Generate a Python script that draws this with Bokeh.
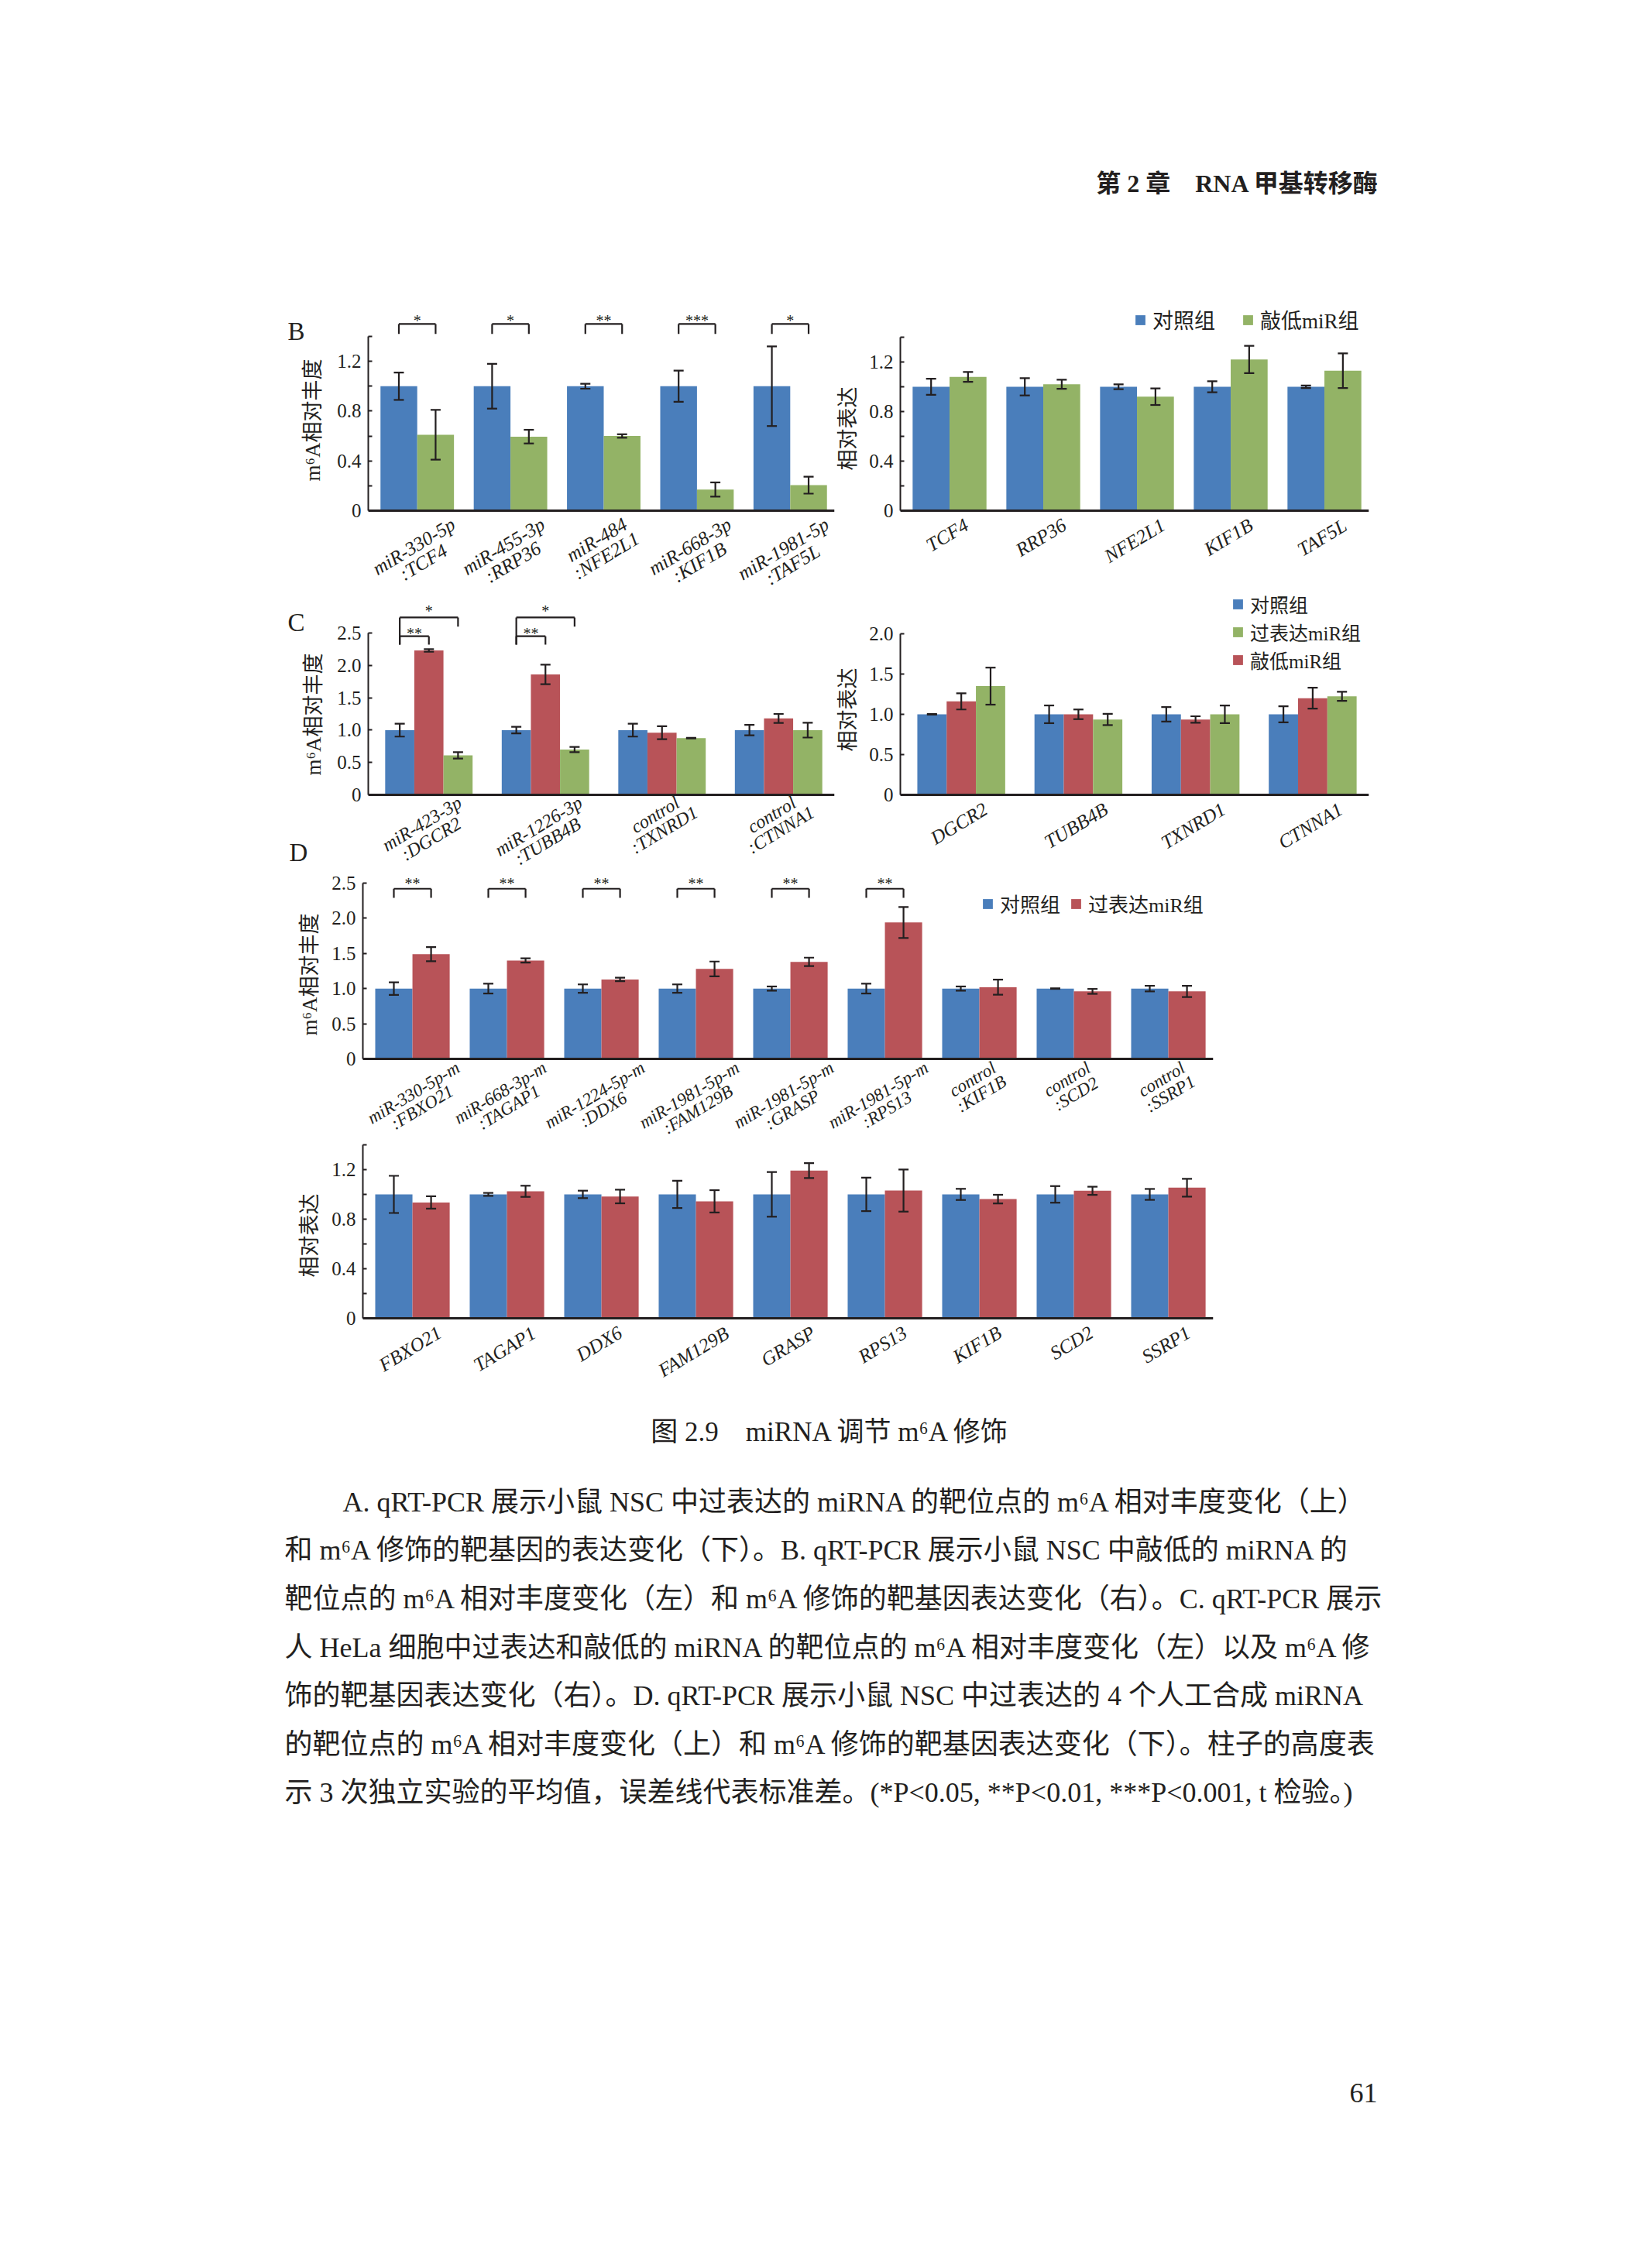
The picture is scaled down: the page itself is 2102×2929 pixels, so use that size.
import math
from bokeh.plotting import figure
from bokeh.models import (ColumnDataSource, FactorRange, FixedTicker, Label, LabelSet,
                          Legend, LegendItem, Spacer, Range1d)
from bokeh.layouts import column, row
from bokeh.transform import dodge
from bokeh.core.properties import value
from bokeh.embed import file_html
from bokeh.resources import INLINE

# ------------------------------------------------------------------ data
# Panel B left: m6A relative abundance (knock-down)
b_sites = ["miR-330-5p\n:TCF4", "miR-455-3p\n:RRP36", "miR-484\n:NFE2L1",
           "miR-668-3p\n:KIF1B", "miR-1981-5p\n:TAF5L"]
b_m6a_ctrl = [1.00, 1.00, 1.00, 1.00, 1.00]
b_m6a_ctrl_sd = [0.11, 0.18, 0.02, 0.125, 0.32]
b_m6a_kd = [0.61, 0.595, 0.60, 0.17, 0.205]
b_m6a_kd_sd = [0.20, 0.055, 0.014, 0.057, 0.068]
b_sig = ["*", "*", "**", "***", "*"]

# Panel B right: target gene expression
b_genes = ["TCF4", "RRP36", "NFE2L1", "KIF1B", "TAF5L"]
b_expr_ctrl = [1.00, 1.00, 1.00, 1.00, 1.00]
b_expr_ctrl_sd = [0.065, 0.07, 0.02, 0.045, 0.01]
b_expr_kd = [1.08, 1.02, 0.92, 1.22, 1.13]
b_expr_kd_sd = [0.04, 0.037, 0.067, 0.11, 0.14]

# Panel C left: m6A relative abundance (HeLa)
c_sites = ["miR-423-3p\n:DGCR2", "miR-1226-3p\n:TUBB4B", "control\n:TXNRD1", "control\n:CTNNA1"]
c_m6a_ctrl = [1.00, 1.00, 1.00, 1.00]
c_m6a_ctrl_sd = [0.10, 0.05, 0.10, 0.08]
c_m6a_red = [2.23, 1.86, 0.96, 1.18]
c_m6a_red_sd = [0.02, 0.15, 0.10, 0.07]
c_m6a_green = [0.61, 0.70, 0.876, 1.00]
c_m6a_green_sd = [0.05, 0.04, 0.004, 0.115]
c_sig_inner = ["**", "**", "", ""]
c_sig_outer = ["*", "*", "", ""]

# Panel C right: target gene expression (HeLa)
c_genes = ["DGCR2", "TUBB4B", "TXNRD1", "CTNNA1"]
c_expr_ctrl = [1.00, 1.00, 1.00, 1.00]
c_expr_ctrl_sd = [0.004, 0.11, 0.09, 0.10]
c_expr_red = [1.16, 1.00, 0.936, 1.20]
c_expr_red_sd = [0.10, 0.06, 0.04, 0.13]
c_expr_green = [1.35, 0.936, 1.00, 1.224]
c_expr_green_sd = [0.23, 0.07, 0.11, 0.056]

# Panel D top: m6A relative abundance (synthetic miRNAs)
d_sites = ["miR-330-5p-m\n:FBXO21", "miR-668-3p-m\n:TAGAP1", "miR-1224-5p-m\n:DDX6",
           "miR-1981-5p-m\n:FAM129B", "miR-1981-5p-m\n:GRASP", "miR-1981-5p-m\n:RPS13",
           "control\n:KIF1B", "control\n:SCD2", "control\n:SSRP1"]
d_m6a_ctrl = [1.00, 1.00, 1.00, 1.00, 1.00, 1.00, 1.00, 1.00, 1.00]
d_m6a_ctrl_sd = [0.09, 0.07, 0.06, 0.06, 0.03, 0.07, 0.03, 0.004, 0.04]
d_m6a_oe = [1.49, 1.40, 1.13, 1.28, 1.38, 1.94, 1.02, 0.96, 0.96]
d_m6a_oe_sd = [0.10, 0.03, 0.025, 0.105, 0.06, 0.22, 0.107, 0.035, 0.08]
d_sig = ["**", "**", "**", "**", "**", "**", "", "", ""]

# Panel D bottom: target gene expression
d_genes = ["FBXO21", "TAGAP1", "DDX6", "FAM129B", "GRASP", "RPS13", "KIF1B", "SCD2", "SSRP1"]
d_expr_ctrl = [1.00, 1.00, 1.00, 1.00, 1.00, 1.00, 1.00, 1.00, 1.00]
d_expr_ctrl_sd = [0.15, 0.012, 0.03, 0.11, 0.18, 0.135, 0.045, 0.067, 0.044]
d_expr_oe = [0.935, 1.025, 0.983, 0.944, 1.192, 1.031, 0.962, 1.029, 1.054]
d_expr_oe_sd = [0.05, 0.045, 0.055, 0.09, 0.06, 0.17, 0.035, 0.033, 0.072]

# axis ticks
ticks_14 = [0, 0.4, 0.8, 1.2]
minor_14 = [0.2, 0.6, 1.0, 1.4]
labels_14 = ["0", "0.4", "0.8", "1.2"]
ticks_25 = [0, 0.5, 1.0, 1.5, 2.0, 2.5]
labels_25 = ["0", "0.5", "1.0", "1.5", "2.0", "2.5"]
ticks_20 = [0, 0.5, 1.0, 1.5, 2.0]
labels_20 = ["0", "0.5", "1.0", "1.5", "2.0"]

# axis titles
title_m6a = "m⁶A相对丰度"
title_expr = "相对表达"

# page texts
header_text = "第 2 章　RNA 甲基转移酶"
caption_text = "图 2.9　miRNA 调节 m⁶A 修饰"
para_lines = [
    "A. qRT-PCR 展示小鼠 NSC 中过表达的 miRNA 的靶位点的 m⁶A 相对丰度变化（上）",
    "和 m⁶A 修饰的靶基因的表达变化（下）。B. qRT-PCR 展示小鼠 NSC 中敲低的 miRNA 的",
    "靶位点的 m⁶A 相对丰度变化（左）和 m⁶A 修饰的靶基因表达变化（右）。C. qRT-PCR 展示",
    "人 HeLa 细胞中过表达和敲低的 miRNA 的靶位点的 m⁶A 相对丰度变化（左）以及 m⁶A 修",
    "饰的靶基因表达变化（右）。D. qRT-PCR 展示小鼠 NSC 中过表达的 4 个人工合成 miRNA",
    "的靶位点的 m⁶A 相对丰度变化（上）和 m⁶A 修饰的靶基因表达变化（下）。柱子的高度表",
    "示 3 次独立实验的平均值，误差线代表标准差。(*P<0.05, **P<0.01, ***P<0.001, t 检验。)",
]
page_number = "61"

# ------------------------------------------------------------------ style
BLUE = "#4A7EBB"
GREEN = "#93B366"
RED = "#B85358"
INK = "#231F20"
FONT = "Liberation Serif, DejaVu Serif, Noto Sans CJK SC"
M = 8
ANG = math.radians(31)
SIN, COS = math.sin(ANG), math.cos(ANG)
O2 = (-0.172, 0.222)
W2 = 0.394
O3 = (-0.23, 0.02, 0.27)
W3 = 0.25

GEOM = {}

TI = {" ": 250, ":": 333, "-": 333, ".": 250,
      "A": 611, "B": 611, "C": 667, "D": 722, "E": 611, "F": 611, "G": 722, "H": 722,
      "I": 333, "J": 444, "K": 667, "L": 556, "M": 833, "N": 667, "O": 722, "P": 611,
      "Q": 722, "R": 611, "S": 500, "T": 556, "U": 722, "V": 611, "W": 833, "X": 611,
      "Y": 556, "Z": 556, "a": 500, "b": 500, "c": 444, "d": 500, "e": 444, "f": 278,
      "g": 500, "h": 500, "i": 278, "j": 278, "k": 444, "l": 278, "m": 722, "n": 500,
      "o": 500, "p": 500, "q": 500, "r": 389, "s": 389, "t": 278, "u": 500, "v": 444,
      "w": 667, "x": 444, "y": 444, "z": 389}


def line_width(s, size):
    return sum(TI.get(ch, 500) for ch in s) / 1000 * size


def category_labels(p, cats, xl, xr, y_zero, bottom, xfs, gap):
    """Rotated category names (one text per line), centred under each category."""
    lhb = 1.15 * xfs            # height of one text line box
    sp = 0.95 * xfs             # distance between the two lines
    step = (xr - xl) / len(cats)
    rows = dict(cat=[], t=[], xo=[], yo=[])
    for i, c in enumerate(cats):
        lines = c.split("\n")
        n = len(lines)
        ws = [line_width(s, xfs) for s in lines]
        down1 = gap + (ws[0] * SIN + lhb * COS) / 2
        centre = xl + (i + 0.5) * step
        cx = [(k - (n - 1) / 2) * sp * SIN for k in range(n)]
        dn = [down1 + k * sp * COS for k in range(n)]
        lo = min(centre + cx[k] - (ws[k] * COS + lhb * SIN) / 2 for k in range(n))
        hi = max(centre + cx[k] + (ws[k] * COS + lhb * SIN) / 2 for k in range(n))
        shift = max(0.0, (xl + 1) - lo) + min(0.0, (xr - 1) - hi)
        for k in range(n):
            rows["cat"].append(c)
            rows["t"].append(lines[k])
            rows["xo"].append(cx[k] + shift)
            rows["yo"].append((bottom - y_zero) - dn[k])
    src = ColumnDataSource(rows)
    p.add_layout(LabelSet(x="cat", y="yo", y_units="screen", x_offset="xo", text="t",
                          source=src, angle=ANG, text_align="center", text_baseline="middle",
                          text_font=value(FONT), text_font_style="italic",
                          text_font_size=value(f"{xfs}px"), text_color=INK))


def make_chart(box, frame_x, y_axis_top, y_zero, frame_top, cats, ymax,
               yticks, yminor, ylabels, xfs, gap):
    left, top, w, h = box
    bottom = top + h
    xl, xr = frame_x
    unit = (y_zero - y_axis_top) / ymax
    y0 = -(bottom - y_zero) / unit
    y1 = (y_zero - frame_top) / unit
    p = figure(width=w, height=h, x_range=FactorRange(factors=list(cats)),
               y_range=Range1d(y0, y1), output_backend="svg", toolbar_location=None,
               min_border_left=xl - left, min_border_right=left + w - xr,
               min_border_top=frame_top - top, min_border_bottom=0)
    p.outline_line_color = None
    p.xgrid.grid_line_color = None
    p.ygrid.grid_line_color = None
    ya = p.yaxis[0]
    ya.bounds = (0, ymax)
    ya.ticker = FixedTicker(ticks=list(yticks), minor_ticks=list(yminor))
    ya.major_label_overrides = {t: s for t, s in zip(yticks, ylabels)}
    ya.axis_line_color = INK
    ya.axis_line_width = 2
    ya.major_tick_line_color = INK
    ya.major_tick_line_width = 2
    ya.major_tick_in = 5
    ya.major_tick_out = 0
    ya.minor_tick_line_color = INK
    ya.minor_tick_line_width = 2
    ya.minor_tick_in = 5
    ya.minor_tick_out = 0
    ya.major_label_standoff = 9
    ya.major_label_text_font = FONT
    ya.major_label_text_font_size = "25px"
    ya.major_label_text_color = INK
    xa = p.xaxis[0]
    xa.fixed_location = 0
    xa.axis_line_color = INK
    xa.axis_line_width = 3
    xa.major_tick_line_color = None
    xa.minor_tick_line_color = None
    xa.major_label_text_color = None
    category_labels(p, cats, xl, xr, y_zero, bottom, xfs, gap)
    GEOM[p.id] = (xl, bottom)
    return p


def bars(p, cats, vals, sds, off, width, color):
    src = ColumnDataSource(dict(cat=list(cats), v=list(vals),
                                lo=[v - s for v, s in zip(vals, sds)],
                                hi=[v + s for v, s in zip(vals, sds)]))
    xs = dodge("cat", off, range=p.x_range)
    r = p.vbar(x=xs, top="v", width=width, source=src, fill_color=color, line_color=None)
    p.segment(x0=xs, y0="lo", x1=xs, y1="hi", source=src, line_color=INK, line_width=2.2)
    for col in ("lo", "hi"):
        p.scatter(x=xs, y=col, source=src, marker="dash", size=13, line_color=INK, line_width=2.2)
    return r


def bracket(p, cats, sig, x_left, x_right, y_top, y_leg_left, y_leg_right, y_star):
    keep = [c for c, s in zip(cats, sig) if s]
    src = ColumnDataSource(dict(cat=keep, s=[s for s in sig if s]))
    xa = dodge("cat", x_left, range=p.x_range)
    xb = dodge("cat", x_right, range=p.x_range)
    kw = dict(source=src, line_color=INK, line_width=2.2)
    p.segment(x0=xa, y0=y_leg_left, x1=xa, y1=y_top, **kw)
    p.segment(x0=xa, y0=y_top, x1=xb, y1=y_top, **kw)
    p.segment(x0=xb, y0=y_top, x1=xb, y1=y_leg_right, **kw)
    p.text(x=dodge("cat", (x_left + x_right) / 2, range=p.x_range), y=y_star, text="s",
           source=src, text_align="center", text_baseline="middle", text_font=value(FONT),
           text_font_size=value("20px"), text_color=INK)


def legend(p, items, page_left, page_bottom, orientation, spacing, size):
    xl, fb = GEOM[p.id]
    lg = Legend(items=[LegendItem(label=l, renderers=[r]) for l, r in items],
                location=(page_left - xl, fb - page_bottom), orientation=orientation,
                glyph_width=16, glyph_height=16, label_standoff=8, spacing=spacing,
                padding=0, margin=0, border_line_color=None, background_fill_alpha=0,
                label_text_font=FONT, label_text_font_size=f"{size}px", label_text_color=INK,
                label_height=16, label_width=10)
    p.add_layout(lg)


def blank(box):
    left, top, w, h = box
    p = figure(width=w, height=h, x_range=(0, 1), y_range=(0, 1), min_border=0,
               x_axis_location=None, y_axis_location=None, toolbar_location=None,
               output_backend="svg")
    p.grid.visible = False
    p.outline_line_color = None
    GEOM[p.id] = box
    return p


def page_text(p, text, px, py, size, align="left", style="normal", angle=0.0):
    left, top, w, h = GEOM[p.id]
    p.add_layout(Label(x=px - left, y=top + h - py, x_units="screen", y_units="screen", text=text,
                       text_font=FONT, text_font_size=f"{size}px", text_font_style=style,
                       text_color=INK, text_align=align, text_baseline="middle", angle=angle))


V = math.pi / 2

# ------------------------------------------------------------------ panel B
bl = make_chart((430, 395, 658, 391), (475, 1085), 442, 667, 398, b_sites, 1.4,
                ticks_14, minor_14, labels_14, 25, 3)
bars(bl, b_sites, b_m6a_ctrl, b_m6a_ctrl_sd, O2[0], W2, BLUE)
bars(bl, b_sites, b_m6a_kd, b_m6a_kd_sd, O2[1], W2, GREEN)
bracket(bl, b_sites, b_sig, O2[0], O2[1], 1.50, 1.42, 1.42, 1.53)

br = make_chart((1118, 395, 682, 363), (1170, 1784), 443, 667, 395, b_genes, 1.4,
                ticks_14, minor_14, labels_14, 25, 4)
r1 = bars(br, b_genes, b_expr_ctrl, b_expr_ctrl_sd, O2[0], W2, BLUE)
r2 = bars(br, b_genes, b_expr_kd, b_expr_kd_sd, O2[1], W2, GREEN)
legend(br, [("对照组", r1), ("敲低miR组", r2)], 1472, 440, "horizontal", 34, 27)

# ------------------------------------------------------------------ panel C
cl = make_chart((430, 786, 658, 347), (483, 1087), 825, 1034, 786, c_sites, 2.5,
                ticks_25, [], labels_25, 24, -4)
bars(cl, c_sites, c_m6a_ctrl, c_m6a_ctrl_sd, O3[0], W3, BLUE)
bars(cl, c_sites, c_m6a_red, c_m6a_red_sd, O3[1], W3, RED)
bars(cl, c_sites, c_m6a_green, c_m6a_green_sd, O3[2], W3, GREEN)
bracket(cl, c_sites, c_sig_inner, O3[0], O3[1], 2.45, 2.32, 2.32, 2.50)
bracket(cl, c_sites, c_sig_outer, O3[0], O3[2], 2.74, 2.32, 2.60, 2.84)

cr = make_chart((1118, 758, 682, 375), (1169, 1775), 826, 1034, 758, c_genes, 2.0,
                ticks_20, [], labels_20, 25, 4)
q1 = bars(cr, c_genes, c_expr_ctrl, c_expr_ctrl_sd, O3[0], W3, BLUE)
q2 = bars(cr, c_genes, c_expr_red, c_expr_red_sd, O3[1], W3, RED)
q3 = bars(cr, c_genes, c_expr_green, c_expr_green_sd, O3[2], W3, GREEN)
legend(cr, [("对照组", q1), ("过表达miR组", q3), ("敲低miR组", q2)], 1597, 878, "vertical", 0, 25)

# ------------------------------------------------------------------ panel D
d1 = make_chart((430, 1133, 1170, 351), (476, 1574), 1148, 1375, 1133, d_sites, 2.5,
                ticks_25, [], labels_25, 23, -2)
s1 = bars(d1, d_sites, d_m6a_ctrl, d_m6a_ctrl_sd, O2[0], W2, BLUE)
s2 = bars(d1, d_sites, d_m6a_oe, d_m6a_oe_sd, O2[1], W2, RED)
bracket(d1, d_sites, d_sig, O2[0], O2[1], 2.42, 2.29, 2.29, 2.49)
legend(d1, [("对照组", s1), ("过表达miR组", s2)], 1275, 1193, "horizontal", 12, 26)

d2 = make_chart((430, 1484, 1170, 316), (476, 1574), 1486, 1710, 1484, d_genes, 1.4,
                ticks_14, minor_14, labels_14, 25, 4)
bars(d2, d_genes, d_expr_ctrl, d_expr_ctrl_sd, O2[0], W2, BLUE)
bars(d2, d_genes, d_expr_oe, d_expr_oe_sd, O2[1], W2, RED)

# ------------------------------------------------------------------ side texts
side_l = blank((360, 395, 70, 738))
page_text(side_l, "B", 379, 435, 33)
page_text(side_l, "C", 379, 811, 33)
page_text(side_l, "D", 381, 1108, 33)
page_text(side_l, title_m6a, 411, 550, 27, align="center", angle=V)
page_text(side_l, title_m6a, 412, 930, 27, align="center", angle=V)

side_m = blank((1088, 395, 30, 738))
page_text(side_m, title_expr, 1102, 561, 27, align="center", angle=V)
page_text(side_m, title_expr, 1102, 924, 27, align="center", angle=V)

side_d1 = blank((360, 1133, 70, 351))
page_text(side_d1, title_m6a, 407, 1266, 27, align="center", angle=V)
side_d2 = blank((360, 1484, 70, 316))
page_text(side_d2, title_expr, 407, 1603, 27, align="center", angle=V)

# ------------------------------------------------------------------ page texts
head = blank((M, M, 2086, 387))
page_text(head, header_text, 1788, 244, 32, align="right", style="bold")

txt = blank((M, 1800, 2086, 1121))
page_text(txt, caption_text, 1080, 1857, 35, align="center")
line_y = [1947, 2009, 2072, 2135, 2197, 2260, 2322]
for i, (ln, y) in enumerate(zip(para_lines, line_y)):
    page_text(txt, ln, 450 if i == 0 else 375, y, 36)
page_text(txt, page_number, 1786, 2710, 36, align="right")

layout = column(
    head,
    row(Spacer(width=352, height=10), side_l, column(bl, cl), side_m, column(br, cr)),
    row(Spacer(width=352, height=10), side_d1, d1),
    row(Spacer(width=352, height=10), side_d2, d2),
    txt,
)

open("out.html", "w").write(file_html(layout, INLINE))
